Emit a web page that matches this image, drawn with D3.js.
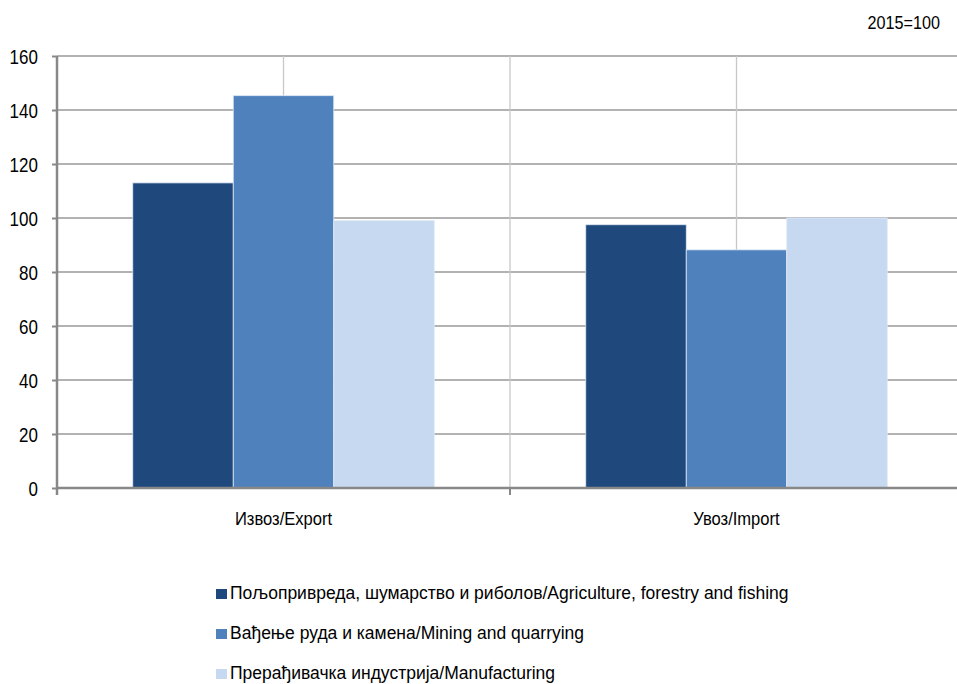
<!DOCTYPE html>
<html>
<head>
<meta charset="utf-8">
<script src="https://cdn.jsdelivr.net/npm/d3@7"></script>
<style>
  body { margin: 0; background: #fff; }
  text { font-family: "Liberation Sans", Arial, sans-serif; fill: #000; }
</style>
</head>
<body>
<div id="chart"></div>
<script>
// data
var categories = ["Извоз/Export", "Увоз/Import"];
var series = [
  "Пољопривреда, шумарство и риболов/Agriculture, forestry and fishing",
  "Вађење руда и камена/Mining and quarrying",
  "Прерађивачка индустрија/Manufacturing"
];
var agriculture = [113, 97.5];
var mining = [145.3, 88.2];
var manufacturing = [99, 100];
var yTicks = [0, 20, 40, 60, 80, 100, 120, 140, 160];
var colors = ["#1F497D", "#4F81BD", "#C6D9F1"];

var values = [agriculture, mining, manufacturing];

var W = 957, H = 684;
var margin = {top: 56, right: -6, bottom: 196, left: 57};
var width = W - margin.left - margin.right,
    height = H - margin.top - margin.bottom;

var svg = d3.select("#chart").append("svg")
  .attr("width", W)
  .attr("height", H);

var g = svg.append("g")
  .attr("transform", "translate(" + margin.left + "," + margin.top + ")");

var x0 = d3.scaleBand().domain(categories).range([0, width]).padding(0);
var x1 = d3.scaleBand().domain(d3.range(series.length))
  .range([0, x0.bandwidth()]).paddingInner(0).paddingOuter(0.754);
var y = d3.scaleLinear().domain([0, 160]).range([height, 0]);

// horizontal gridlines
g.append("g").selectAll("line")
  .data(yTicks.slice(1))
  .enter().append("line")
  .attr("x1", 0).attr("x2", width)
  .attr("y1", function(d) { return y(d); })
  .attr("y2", function(d) { return y(d); })
  .attr("stroke", "#999").attr("stroke-width", 1.3);

// vertical gridlines at category centres and boundaries
var vlines = [];
categories.forEach(function(c) {
  vlines.push(x0(c) + x0.bandwidth() / 2);
  vlines.push(x0(c) + x0.bandwidth());
});
g.append("g").selectAll("line")
  .data(vlines)
  .enter().append("line")
  .attr("x1", function(d) { return d; }).attr("x2", function(d) { return d; })
  .attr("y1", 0).attr("y2", height)
  .attr("stroke", "#c8c8c8").attr("stroke-width", 1.3);

// bars
categories.forEach(function(c, ci) {
  values.forEach(function(s, si) {
    g.append("rect")
      .attr("x", x0(c) + x1(si))
      .attr("y", y(s[ci]))
      .attr("width", x1.bandwidth())
      .attr("height", height - y(s[ci]))
      .attr("fill", colors[si])
      .attr("stroke", "#dfe8f4")
      .attr("stroke-width", 0.8);
  });
});

// y axis
var yAxis = g.append("g")
  .call(d3.axisLeft(y).tickValues(yTicks).tickSize(5).tickPadding(17));
yAxis.select(".domain").attr("stroke", "#888").attr("stroke-width", 2.5)
  .attr("d", "M0," + (height + 7) + "V0");
yAxis.selectAll(".tick line").attr("stroke", "#888").attr("stroke-width", 2);
yAxis.selectAll("text").style("font-size", "19.5px").attr("dy", "0.36em")
  .attr("transform", "scale(0.87,1)");

// x axis
var xAxis = g.append("g")
  .attr("transform", "translate(0," + height + ")")
  .call(d3.axisBottom(x0).tickSize(0).tickPadding(24));
xAxis.select(".domain").attr("stroke", "#888").attr("stroke-width", 2.5)
  .attr("d", "M0,0H" + width);
xAxis.selectAll("text").style("font-size", "18.6px")
  .attr("transform", "scale(0.89,1)");
xAxis.selectAll(".bound")
  .data([0].concat(vlines.filter(function(d, i) { return i % 2 === 1; })))
  .enter().append("line")
  .attr("x1", function(d) { return d; }).attr("x2", function(d) { return d; })
  .attr("y1", 0).attr("y2", 7)
  .attr("stroke", "#888").attr("stroke-width", 2);

// unit note
svg.append("text")
  .attr("transform", "translate(940,29) scale(0.87,1)")
  .attr("text-anchor", "end")
  .style("font-size", "18.6px")
  .text("2015=100");

// legend
var legend = svg.append("g").selectAll("g")
  .data(series)
  .enter().append("g")
  .attr("transform", function(d, i) { return "translate(216," + (589 + i * 40) + ")"; });
legend.append("rect")
  .attr("width", 11).attr("height", 10)
  .attr("fill", function(d, i) { return colors[i]; });
legend.append("text")
  .attr("x", 14).attr("y", 10)
  .style("font-size", "17.5px")
  .text(function(d) { return d; });
</script>
</body>
</html>
